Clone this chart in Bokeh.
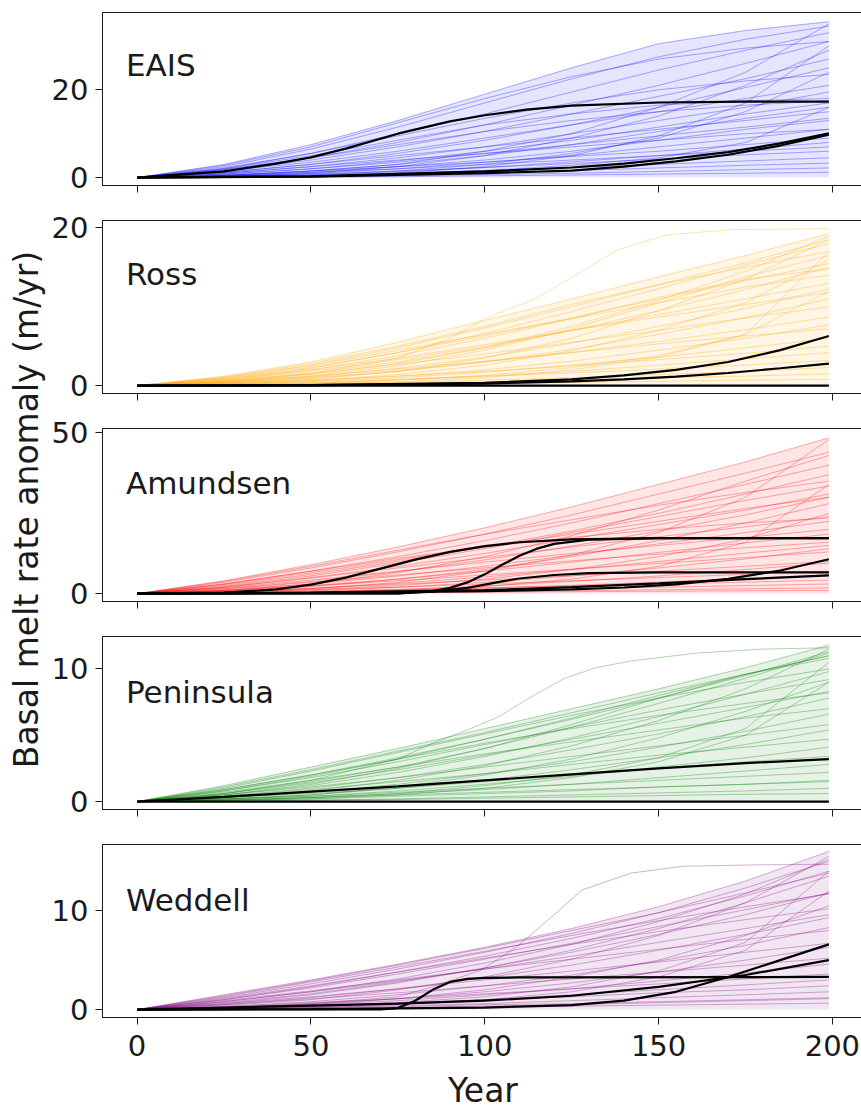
import math
from bokeh.plotting import figure
from bokeh.layouts import column, row
from bokeh.models import Range1d, FixedTicker, Label
from bokeh.embed import file_html
from bokeh.resources import INLINE

# ---------------- data ----------------
YEARS = [0, 25, 50, 75, 100, 125, 150, 175, 199]
X_TICKS = [0, 50, 100, 150, 200]

REGIONS = ["EAIS", "Ross", "Amundsen", "Peninsula", "Weddell"]
COLORS = ["#0000ff", "#ffa500", "#ff0000", "#008000", "#800080"]
Y_TICKS = [[0, 20], [0, 20], [0, 50], [0, 10], [0, 10]]

EAIS_RUNS = [
    [0, 3.0, 7.5, 13.0, 19.0, 25.0, 30.5, 33.5, 35.5],
    [0, 2.5, 6.5, 11.5, 17.0, 22.5, 27.5, 31.5, 34.5],
    [0, 2.8, 7.0, 12.5, 18.0, 23.0, 27.0, 29.5, 31.0],
    [0, 2.0, 5.5, 10.0, 14.5, 19.5, 24.5, 29.0, 33.0],
    [0, 1.8, 4.5, 8.0, 12.0, 16.5, 21.0, 26.0, 31.0],
    [0, 0.5, 1.5, 3.0, 6.0, 10.0, 16.0, 24.0, 35.0],
    [0, 1.5, 4.0, 7.0, 10.5, 14.5, 18.5, 22.5, 27.0],
    [0, 2.2, 5.5, 9.5, 13.5, 17.0, 20.0, 22.0, 23.5],
    [0, 1.2, 3.0, 5.5, 8.5, 12.0, 16.0, 20.5, 25.0],
    [0, 0.3, 1.0, 2.5, 5.0, 9.0, 14.0, 21.0, 29.0],
    [0, 1.5, 3.5, 6.0, 9.0, 12.0, 15.0, 18.0, 21.0],
    [0, 1.0, 2.5, 4.5, 7.0, 10.0, 13.0, 16.0, 19.5],
    [0, 2.0, 5.0, 8.5, 12.0, 14.5, 16.5, 17.5, 18.0],
    [0, 0.8, 2.0, 3.8, 6.0, 8.5, 11.5, 14.5, 17.0],
    [0, 0.5, 1.5, 3.0, 5.0, 7.5, 10.5, 13.5, 16.0],
    [0, 1.2, 3.0, 5.0, 7.0, 9.0, 11.0, 13.0, 15.0],
    [0, 0.2, 0.6, 1.5, 3.0, 5.5, 9.0, 15.0, 24.0],
    [0, 0.8, 2.0, 3.5, 5.5, 7.5, 9.5, 11.5, 13.5],
    [0, 0.4, 1.2, 2.5, 4.0, 6.0, 8.5, 11.0, 13.0],
    [0, 1.0, 2.5, 4.0, 5.5, 7.0, 8.5, 10.0, 11.0],
    [0, 0.3, 0.9, 2.0, 3.5, 5.0, 7.0, 9.0, 11.0],
    [0, 0.6, 1.5, 2.5, 3.5, 4.8, 6.0, 7.5, 9.0],
    [0, 0.2, 0.6, 1.3, 2.3, 3.6, 5.0, 6.5, 8.0],
    [0, 0.5, 1.2, 2.0, 3.0, 4.0, 5.0, 6.0, 7.0],
    [0, 0.3, 0.8, 1.5, 2.3, 3.2, 4.2, 5.2, 6.0],
    [0, 0.2, 0.5, 1.0, 1.6, 2.3, 3.0, 3.8, 4.5],
    [0, 0.1, 0.3, 0.7, 1.1, 1.6, 2.2, 2.8, 3.3],
    [0, 0.1, 0.2, 0.4, 0.7, 1.0, 1.4, 1.8, 2.2],
    [0, 0.1, 0.3, 0.8, 1.6, 2.8, 4.5, 8.0, 16.0],
    [0, 0.05, 0.1, 0.2, 0.4, 0.6, 0.8, 1.0, 1.2],
    [0, 0.1, 0.3, 1.0, 2.5, 5.0, 9.5, 17.0, 30.0],
    [0, 1.8, 4.5, 7.5, 10.5, 13.0, 15.0, 16.5, 17.5],
]

ROSS_RUNS = [
    [0, 1.2, 3.0, 5.5, 8.3, 11.0, 13.8, 16.5, 19.3],
    [0, 1.0, 2.6, 4.8, 7.3, 10.0, 12.8, 15.6, 18.5],
    [0, 0.8, 2.2, 4.2, 6.6, 9.4, 12.3, 15.3, 18.0],
    [0, 0.5, 1.4, 2.8, 4.8, 7.5, 10.8, 14.5, 19.0],
    [0, 1.1, 2.8, 5.0, 7.5, 10.3, 12.8, 15.0, 17.0],
    [0, 0.3, 0.8, 1.8, 3.5, 6.0, 9.5, 13.5, 18.5],
    [0, 0.9, 2.3, 4.2, 6.3, 8.6, 11.0, 13.3, 15.5],
    [0, 0.6, 1.6, 3.0, 4.8, 7.0, 9.5, 12.2, 15.0],
    [0, 1.0, 2.5, 4.5, 6.5, 8.5, 10.5, 12.5, 14.0],
    [0, 0.2, 0.6, 1.4, 2.6, 4.4, 7.0, 10.5, 16.0],
    [0, 0.7, 1.8, 3.3, 5.0, 7.0, 9.0, 11.0, 13.0],
    [0, 0.4, 1.1, 2.2, 3.6, 5.4, 7.5, 9.8, 12.3],
    [0, 0.8, 2.0, 3.5, 5.2, 7.0, 8.7, 10.3, 11.8],
    [0, 0.3, 0.9, 1.8, 3.0, 4.6, 6.5, 8.6, 11.0],
    [0, 0.6, 1.5, 2.7, 4.0, 5.5, 7.0, 8.6, 10.0],
    [0, 0.1, 0.3, 0.7, 1.3, 2.3, 3.8, 6.5, 12.0],
    [0, 0.4, 1.0, 1.9, 3.0, 4.2, 5.6, 7.1, 8.7],
    [0, 0.2, 0.6, 1.2, 2.0, 3.1, 4.5, 6.0, 7.7],
    [0, 0.5, 1.2, 2.1, 3.1, 4.2, 5.3, 6.3, 7.2],
    [0, 0.2, 0.5, 1.0, 1.7, 2.6, 3.6, 4.8, 6.0],
    [0, 0.3, 0.7, 1.2, 1.8, 2.5, 3.3, 4.1, 5.0],
    [0, 0.1, 0.3, 0.7, 1.2, 1.8, 2.6, 3.4, 4.2],
    [0, 0.2, 0.4, 0.8, 1.2, 1.6, 2.1, 2.6, 3.2],
    [0, 0.1, 0.2, 0.4, 0.7, 1.0, 1.4, 1.8, 2.3],
    [0, 0.05, 0.1, 0.3, 0.5, 0.7, 1.0, 1.2, 1.5],
    [0, 0.1, 0.2, 0.5, 1.0, 2.0, 3.6, 6.5, 17.0],
    [0, 0.7, 2.0, 3.8, 6.0, 8.5, 11.2, 13.5, 14.8],
    [0, 0.4, 1.2, 2.5, 4.5, 7.2, 10.5, 13.8, 16.5],
    [0, 0.05, 0.1, 0.2, 0.3, 0.4, 0.55, 0.7, 0.8],
]

AMUNDSEN_RUNS = [
    [0, 4.0, 9.0, 14.5, 20.5, 27.0, 34.0, 41.0, 48.5],
    [0, 3.5, 8.0, 13.0, 18.5, 24.5, 31.0, 37.5, 44.0],
    [0, 3.8, 8.5, 13.5, 18.5, 23.0, 27.5, 31.5, 35.0],
    [0, 3.0, 7.0, 11.5, 16.5, 22.0, 28.0, 34.0, 40.0],
    [0, 2.5, 6.0, 10.0, 14.5, 19.5, 25.0, 31.0, 37.0],
    [0, 0.5, 1.5, 3.5, 7.0, 12.0, 19.0, 30.0, 48.0],
    [0, 2.8, 6.5, 10.5, 14.5, 18.5, 22.5, 26.5, 30.0],
    [0, 2.0, 5.0, 8.5, 12.5, 17.0, 21.5, 26.0, 31.0],
    [0, 1.5, 3.8, 6.8, 10.5, 14.8, 19.5, 24.5, 30.0],
    [0, 3.0, 7.0, 11.0, 14.5, 17.5, 20.0, 22.0, 23.5],
    [0, 0.8, 2.2, 4.5, 7.5, 11.5, 16.5, 22.0, 28.0],
    [0, 2.0, 4.8, 8.0, 11.2, 14.5, 17.7, 20.8, 24.0],
    [0, 1.2, 3.0, 5.5, 8.5, 12.0, 15.5, 19.0, 22.5],
    [0, 1.8, 4.2, 7.0, 9.8, 12.5, 15.0, 17.5, 20.0],
    [0, 0.4, 1.2, 2.5, 4.5, 7.5, 11.5, 17.0, 25.0],
    [0, 1.0, 2.5, 4.5, 7.0, 9.8, 12.8, 15.8, 18.5],
    [0, 1.5, 3.5, 5.8, 8.0, 10.2, 12.3, 14.3, 16.0],
    [0, 0.6, 1.6, 3.2, 5.2, 7.5, 10.0, 12.6, 15.0],
    [0, 1.0, 2.4, 4.0, 5.8, 7.6, 9.4, 11.2, 13.0],
    [0, 0.3, 0.9, 2.0, 3.5, 5.5, 8.0, 10.8, 14.0],
    [0, 0.7, 1.7, 2.9, 4.2, 5.6, 7.0, 8.5, 10.0],
    [0, 0.2, 0.6, 1.3, 2.4, 3.8, 5.5, 7.5, 9.5],
    [0, 0.5, 1.2, 2.0, 3.0, 4.0, 5.0, 6.0, 7.0],
    [0, 0.2, 0.5, 1.0, 1.7, 2.6, 3.6, 4.7, 5.8],
    [0, 0.3, 0.7, 1.2, 1.8, 2.4, 3.0, 3.6, 4.2],
    [0, 0.1, 0.3, 0.6, 1.0, 1.5, 2.0, 2.5, 3.0],
    [0, 0.1, 0.2, 0.4, 0.6, 0.9, 1.2, 1.5, 1.8],
    [0, 0.1, 0.3, 1.0, 2.2, 4.5, 8.5, 16.0, 34.0],
    [0, 2.2, 5.5, 9.5, 14.0, 19.0, 24.0, 29.0, 33.5],
    [0, 0.05, 0.15, 0.3, 0.45, 0.6, 0.75, 0.9, 1.0],
    [0, 1.0, 3.0, 6.5, 11.5, 18.0, 26.0, 35.0, 43.0],
]

PENINSULA_RUNS = [
    [0, 1.2, 2.6, 4.0, 5.5, 7.0, 8.5, 10.1, 11.8],
    [0, 1.1, 2.4, 3.8, 5.2, 6.7, 8.2, 9.6, 11.0],
    [0, 0.9, 2.0, 3.3, 4.7, 6.2, 7.8, 9.5, 11.3],
    [0, 1.0, 2.3, 3.7, 5.1, 6.5, 7.8, 9.0, 10.0],
    [0, 0.6, 1.5, 2.6, 4.0, 5.6, 7.4, 9.3, 11.2],
    [0, 0.3, 0.8, 1.6, 2.7, 4.2, 6.1, 8.5, 11.5],
    [0, 0.8, 1.8, 3.0, 4.3, 5.6, 6.9, 8.1, 9.2],
    [0, 0.5, 1.2, 2.2, 3.4, 4.8, 6.4, 8.1, 9.8],
    [0, 0.9, 2.0, 3.2, 4.4, 5.5, 6.5, 7.4, 8.2],
    [0, 0.1, 0.3, 0.6, 1.2, 2.0, 3.3, 5.5, 10.5],
    [0, 0.6, 1.4, 2.4, 3.5, 4.7, 5.9, 7.1, 8.3],
    [0, 0.4, 1.0, 1.8, 2.8, 3.9, 5.1, 6.4, 7.8],
    [0, 0.7, 1.6, 2.6, 3.6, 4.5, 5.4, 6.3, 7.0],
    [0, 0.3, 0.7, 1.3, 2.1, 3.0, 4.1, 5.3, 6.6],
    [0, 0.5, 1.1, 1.8, 2.6, 3.4, 4.2, 5.0, 5.8],
    [0, 0.2, 0.5, 1.0, 1.6, 2.4, 3.3, 4.3, 5.4],
    [0, 0.4, 0.9, 1.5, 2.1, 2.8, 3.5, 4.1, 4.7],
    [0, 0.2, 0.4, 0.8, 1.3, 1.9, 2.6, 3.3, 4.1],
    [0, 0.3, 0.6, 1.0, 1.5, 2.0, 2.5, 3.0, 3.4],
    [0, 0.1, 0.3, 0.6, 0.9, 1.3, 1.8, 2.3, 2.8],
    [0, 0.2, 0.4, 0.7, 1.0, 1.3, 1.6, 1.9, 2.2],
    [0, 0.1, 0.2, 0.4, 0.6, 0.8, 1.1, 1.3, 1.6],
    [0, 0.05, 0.1, 0.2, 0.35, 0.5, 0.65, 0.8, 1.0],
    [0, 0.1, 0.2, 0.5, 1.0, 1.8, 3.0, 5.0, 9.0],
    [0, 0.8, 1.9, 3.2, 4.7, 6.3, 8.0, 9.6, 11.0],
    [0, 0.05, 0.1, 0.15, 0.25, 0.35, 0.45, 0.55, 0.6],
    [0, 0.5, 1.3, 2.5, 4.0, 5.8, 7.8, 9.6, 10.8],
    [0, 0.2, 0.5, 1.1, 2.0, 3.2, 4.8, 6.8, 9.0],
    [0, 0.15, 0.3, 0.5, 0.7, 0.9, 1.1, 1.3, 1.5],
]

WEDDELL_RUNS = [
    [0, 1.5, 3.0, 4.6, 6.3, 8.2, 10.4, 13.0, 16.0],
    [0, 1.4, 2.9, 4.5, 6.2, 8.0, 9.8, 11.8, 13.8],
    [0, 1.2, 2.6, 4.1, 5.8, 7.7, 9.8, 12.3, 15.0],
    [0, 1.3, 2.8, 4.3, 5.9, 7.5, 9.0, 10.4, 11.7],
    [0, 0.8, 1.8, 3.1, 4.7, 6.6, 8.9, 11.7, 15.2],
    [0, 0.4, 1.0, 2.0, 3.3, 5.1, 7.5, 10.8, 15.5],
    [0, 1.0, 2.2, 3.6, 5.1, 6.7, 8.4, 10.1, 11.8],
    [0, 0.7, 1.6, 2.8, 4.2, 5.8, 7.6, 9.6, 11.8],
    [0, 1.1, 2.4, 3.8, 5.2, 6.6, 7.9, 9.1, 10.2],
    [0, 0.1, 0.3, 0.7, 1.3, 2.3, 3.9, 6.8, 14.0],
    [0, 0.8, 1.8, 2.9, 4.1, 5.4, 6.8, 8.2, 9.6],
    [0, 0.5, 1.2, 2.1, 3.2, 4.5, 6.0, 7.6, 9.3],
    [0, 0.9, 1.9, 3.0, 4.1, 5.1, 6.1, 7.1, 8.0],
    [0, 0.3, 0.8, 1.5, 2.4, 3.5, 4.9, 6.5, 8.3],
    [0, 0.6, 1.3, 2.1, 3.0, 3.9, 4.8, 5.8, 6.7],
    [0, 0.2, 0.6, 1.1, 1.8, 2.7, 3.8, 5.0, 6.3],
    [0, 0.5, 1.1, 1.7, 2.4, 3.1, 3.8, 4.5, 5.2],
    [0, 0.2, 0.5, 0.9, 1.5, 2.1, 2.9, 3.7, 4.6],
    [0, 0.3, 0.7, 1.1, 1.6, 2.1, 2.6, 3.1, 3.6],
    [0, 0.1, 0.3, 0.6, 1.0, 1.5, 2.0, 2.5, 3.0],
    [0, 0.2, 0.4, 0.7, 1.0, 1.3, 1.7, 2.0, 2.4],
    [0, 0.1, 0.2, 0.4, 0.6, 0.9, 1.2, 1.5, 1.8],
    [0, 0.05, 0.1, 0.2, 0.35, 0.5, 0.7, 0.9, 1.1],
    [0, 0.1, 0.2, 0.5, 1.0, 1.8, 3.3, 6.0, 12.0],
    [0, 1.0, 2.3, 3.8, 5.4, 7.2, 9.2, 11.5, 14.0],
    [0, 0.05, 0.1, 0.15, 0.25, 0.35, 0.45, 0.55, 0.65],
    [0, 0.6, 1.5, 2.7, 4.2, 6.0, 8.2, 10.8, 13.5],
    [0, 0.2, 0.5, 1.1, 2.0, 3.3, 5.0, 7.5, 10.5],
    [0, 0.1, 0.2, 0.3, 0.5, 0.6, 0.8, 1.0, 1.2],
]

# early-saturating (S-shaped) ensemble members, sampled more finely: (years, values)
EAIS_SHAPED = []
ROSS_SHAPED = [
    ([0, 25, 50, 75, 90, 100, 114, 128, 138, 152, 171, 199],
     [0, 0.5, 1.5, 3.5, 6.0, 8.5, 10.9, 14.5, 17.2, 19.1, 19.8, 19.9]),
]
AMUNDSEN_SHAPED = []
PENINSULA_SHAPED = [
    ([0, 25, 50, 75, 85, 95, 104, 114, 123, 132, 142, 161, 180, 199],
     [0, 0.6, 1.6, 3.2, 4.4, 5.4, 6.4, 8.0, 9.3, 10.1, 10.6, 11.2, 11.5, 11.6]),
]
WEDDELL_SHAPED = [
    ([0, 25, 50, 75, 85, 99, 109, 118, 128, 142, 157, 180, 199],
     [0, 0.2, 0.6, 1.3, 2.3, 4.0, 6.3, 9.0, 12.1, 13.8, 14.5, 14.65, 14.7]),
]

# highlighted (black) runs: (years, values)
EAIS_BLACK = [
    ([0, 25, 40, 50, 60, 75, 90, 100, 112, 125, 150, 175, 199],
     [0, 1.4, 3.2, 4.6, 6.6, 10.0, 12.8, 14.2, 15.5, 16.4, 17.1, 17.3, 17.3]),
    ([0, 50, 100, 125, 140, 155, 170, 185, 199],
     [0, 0.2, 1.0, 1.6, 2.5, 3.7, 5.2, 7.3, 9.8]),
    ([0, 50, 100, 125, 140, 155, 170, 185, 199],
     [0, 0.3, 1.4, 2.3, 3.2, 4.4, 5.8, 7.8, 10.1]),
]
ROSS_BLACK = [
    ([0, 199], [0, 0]),
    ([0, 50, 100, 125, 140, 155, 170, 185, 199],
     [0, 0.05, 0.35, 0.8, 1.3, 2.0, 3.0, 4.5, 6.3]),
    ([0, 50, 100, 125, 140, 155, 170, 185, 199],
     [0, 0.05, 0.25, 0.55, 0.8, 1.15, 1.6, 2.2, 2.8]),
]
AMUNDSEN_BLACK = [
    ([0, 25, 40, 50, 60, 70, 80, 90, 100, 110, 125, 150, 199],
     [0, 0.3, 1.3, 2.8, 5.0, 7.8, 10.6, 13.0, 14.8, 16.0, 16.9, 17.3, 17.3]),
    ([0, 75, 85, 90, 95, 100, 105, 110, 115, 120, 130, 150, 199],
     [0, 0.1, 0.8, 1.8, 3.5, 6.0, 9.0, 11.8, 14.0, 15.5, 16.8, 17.3, 17.3]),
    ([0, 75, 85, 95, 100, 105, 110, 120, 130, 150, 199],
     [0, 0.1, 0.6, 1.8, 2.8, 3.8, 4.7, 5.8, 6.4, 6.6, 6.6]),
    ([0, 50, 100, 125, 140, 155, 170, 185, 199],
     [0, 0.2, 0.8, 1.3, 1.9, 2.9, 4.6, 7.2, 10.7]),
    ([0, 50, 100, 125, 150, 175, 199],
     [0, 0.3, 1.1, 2.0, 3.2, 4.5, 5.7]),
]
PENINSULA_BLACK = [
    ([0, 199], [0, 0]),
    (YEARS, [0, 0.35, 0.75, 1.15, 1.6, 2.05, 2.5, 2.9, 3.2]),
]
WEDDELL_BLACK = [
    ([0, 70, 75, 80, 85, 90, 95, 100, 110, 199],
     [0, 0.02, 0.15, 0.9, 2.0, 2.8, 3.1, 3.2, 3.25, 3.3]),
    ([0, 50, 100, 125, 140, 155, 170, 185, 199],
     [0, 0.05, 0.2, 0.45, 0.9, 1.8, 3.3, 5.0, 6.6]),
    ([0, 50, 75, 100, 125, 150, 175, 199],
     [0, 0.4, 0.6, 0.9, 1.4, 2.3, 3.5, 5.0]),
]

ALL_RUNS = [EAIS_RUNS, ROSS_RUNS, AMUNDSEN_RUNS, PENINSULA_RUNS, WEDDELL_RUNS]
ALL_SHAPED = [EAIS_SHAPED, ROSS_SHAPED, AMUNDSEN_SHAPED, PENINSULA_SHAPED, WEDDELL_SHAPED]
ALL_BLACK = [EAIS_BLACK, ROSS_BLACK, AMUNDSEN_BLACK, PENINSULA_BLACK, WEDDELL_BLACK]

# ---------------- layout / style ----------------
Y_LIMITS = [(-1.8, 37.6), (-1.0, 20.95), (-2.45, 51.4), (-0.6, 12.45), (-0.8, 16.7)]
LABEL_Y = [25.7, 14.15, 34.5, 8.28, 11.09]
TOP_BORDER = [12, 13, 13, 13, 13]
BOTTOM_BORDER = [22, 22, 22, 22, 94]
FONT = "DejaVu Sans"
INK = "#1a1a1a"
LAB_W = 48
FRAME_W, FRAME_H = 761, 173

panels = []
for i, name in enumerate(REGIONS):
    last = i == len(REGIONS) - 1
    p = figure(frame_width=FRAME_W, frame_height=FRAME_H,
               x_range=Range1d(-9.95, 208.95), y_range=Range1d(*Y_LIMITS[i]),
               output_backend="svg", toolbar_location=None,
               min_border_left=99 - LAB_W, min_border_right=1,
               min_border_top=TOP_BORDER[i], min_border_bottom=BOTTOM_BORDER[i])
    p.grid.visible = False
    p.outline_line_color = INK
    p.outline_line_width = 1
    p.background_fill_color = "white"
    p.border_fill_color = "white"

    runs = ALL_RUNS[i]
    color = COLORS[i]
    # light tint under the bulk of the ensemble
    bulk = [max(r[k] for r in runs) for k in range(len(YEARS))]
    p.varea(x=YEARS, y1=[0] * len(YEARS), y2=bulk, fill_color=color, fill_alpha=0.1)
    xs = [YEARS] * len(runs) + [s[0] for s in ALL_SHAPED[i]]
    ys = list(runs) + [s[1] for s in ALL_SHAPED[i]]
    p.multi_line(xs=xs, ys=ys, line_color=color, line_alpha=0.32, line_width=1)
    for yrs, vals in ALL_BLACK[i]:
        p.line(yrs, vals, line_color="black", line_width=2.2)

    for ax in (p.xaxis[0], p.yaxis[0]):
        ax.axis_line_color = INK
        ax.major_tick_line_color = INK
        ax.major_tick_in = 0
        ax.major_tick_out = 7
        ax.minor_tick_in = 0
        ax.minor_tick_out = 0
        ax.major_label_text_font = FONT
        ax.major_label_text_font_size = "29px"
        ax.major_label_text_color = INK
    p.xaxis.ticker = FixedTicker(ticks=X_TICKS)
    p.yaxis.ticker = FixedTicker(ticks=Y_TICKS[i])
    p.yaxis.major_label_standoff = 7
    if last:
        p.xaxis.major_label_standoff = 10
        p.xaxis.axis_label = "Year"
        p.xaxis.axis_label_text_font = FONT
        p.xaxis.axis_label_text_font_size = "33px"
        p.xaxis.axis_label_text_font_style = "normal"
        p.xaxis.axis_label_text_color = INK
        p.xaxis.axis_label_standoff = 12
    else:
        p.xaxis.major_label_text_font_size = "1px"
        p.xaxis.major_label_text_color = None
        p.xaxis.major_label_standoff = 0

    p.add_layout(Label(x=-3.2, y=LABEL_Y[i], text=name, text_font=FONT,
                       text_font_size="31px", text_align="left",
                       text_baseline="alphabetic", text_color=INK))
    panels.append(p)

TOTAL_H = sum(t + FRAME_H + b for t, b in zip(TOP_BORDER, BOTTOM_BORDER))
lab = figure(frame_width=LAB_W, frame_height=TOTAL_H, x_range=Range1d(0, LAB_W),
             y_range=Range1d(0, TOTAL_H), x_axis_type=None, y_axis_type=None,
             output_backend="svg", toolbar_location=None, min_border=0)
lab.grid.visible = False
lab.outline_line_color = None
lab.border_fill_color = "white"
lab.add_layout(Label(x=26, y=TOTAL_H - 509, text="Basal melt rate anomaly (m/yr)",
                     angle=math.pi / 2, text_font=FONT, text_font_size="33px",
                     text_align="center", text_baseline="alphabetic",
                     text_color=INK))

layout = row(lab, column(*panels, spacing=0), spacing=0)
open("out.html", "w").write(file_html(layout, INLINE))
